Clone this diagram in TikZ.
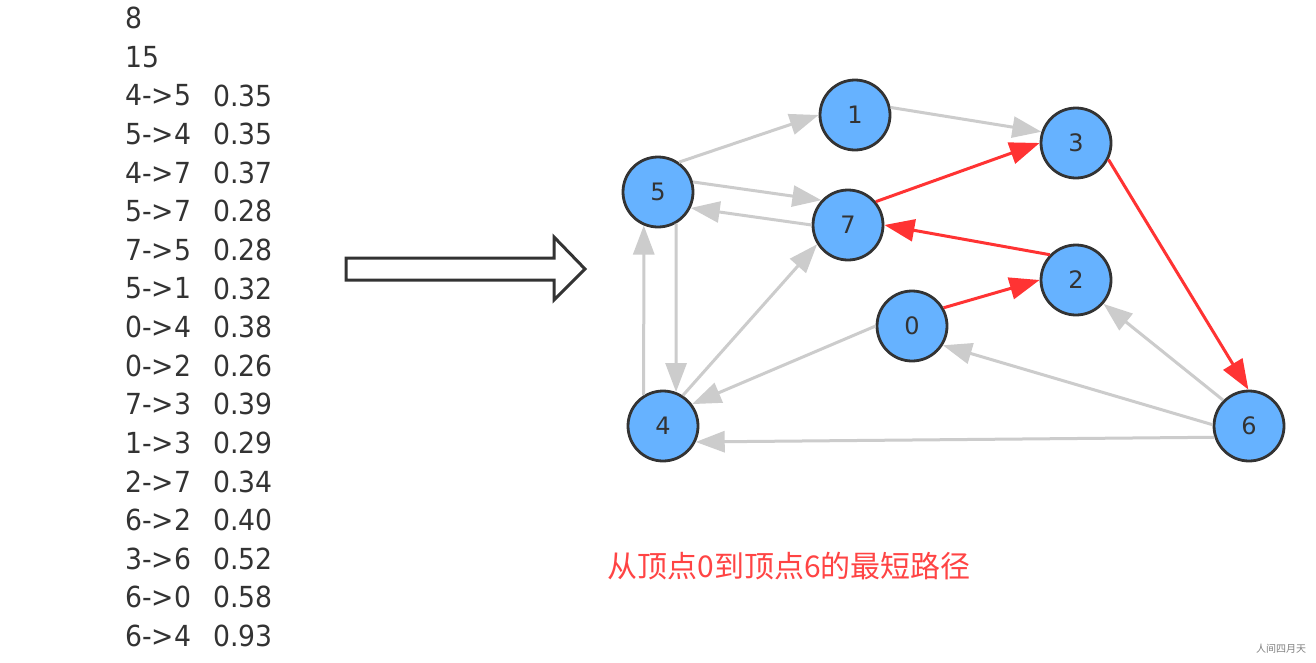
\documentclass[tikz,border=0pt]{standalone}
\usepackage{fontspec}
\setmainfont{DejaVu Sans}
\newfontfamily\listfont[FakeStretch=0.92]{DejaVu Sans}
\newfontfamily\cjk{Noto Sans CJK SC}
\usetikzlibrary{arrows.meta}
\definecolor{txtgray}{HTML}{333333}
\definecolor{edgegray}{HTML}{CCCCCC}
\definecolor{pathred}{HTML}{FF3333}
\definecolor{nodeblue}{HTML}{66B2FF}
\definecolor{capred}{HTML}{FF4444}
\tikzset{
  listtxt/.style={anchor=west, inner sep=0pt, text=txtgray, font=\listfont\fontsize{29}{29}\selectfont},
  vert/.style={circle, draw=txtgray, line width=2.8pt, fill=nodeblue, minimum size=70pt, inner sep=0pt,
    text=txtgray, font=\fontsize{24}{24}\selectfont},
  gedge/.style={draw=edgegray, line width=3pt, -{Triangle[length=29pt,width=21pt]}},
  redge/.style={draw=pathred, line width=3pt, -{Triangle[length=30pt,width=22pt]}},
  bigarrow/.style={draw=txtgray, line width=3pt, fill=white, line join=miter},
}
\begin{document}
\begin{tikzpicture}[x=1pt,y=1pt]
\useasboundingbox (0,0) rectangle (1316,-662);
\fill[white] (0,0) rectangle (1316,-662);

% input list
\node[listtxt] (n8) at (125,-18.3) {8};
\node[listtxt] (n15) at (125,-56.9) {15};
\foreach \a/\b [count=\i] in {4->5/0.35,5->4/0.35,4->7/0.37,5->7/0.28,7->5/0.28,5->1/0.32,0->4/0.38,0->2/0.26,7->3/0.39,1->3/0.29,2->7/0.34,6->2/0.40,3->6/0.52,6->0/0.58,6->4/0.93}{
  \node[listtxt] (ea\i) at (125,{-95.5-38.6*(\i-1)}) {\a};
  \node[listtxt] (eb\i) at (213,{-95.5-38.6*(\i-1)}) {\b};
}

% hollow arrow
\draw[bigarrow] (346,-258) -- (554,-258) -- (554,-237) -- (585,-269) -- (554,-300) -- (554,-280) -- (346,-280) -- cycle;

% vertices
\node[vert] (v5) at (658,-192) {5};
\node[vert] (v1) at (855,-115) {1};
\node[vert] (v3) at (1076,-143) {3};
\node[vert] (v7) at (848,-225) {7};
\node[vert] (v2) at (1076,-280) {2};
\node[vert] (v0) at (912,-326) {0};
\node[vert] (v4) at (663,-426) {4};
\node[vert] (v6) at (1249,-426) {6};

% gray edges
\draw[gedge] (v5.55) -- (v1.180);
\draw[gedge] (v1.12) -- (v3.162);
\draw[gedge] (v5.16) -- (v7.137);
\draw[gedge] (v7.180) -- (v5.-26);
\draw[gedge] (v5.-60) -- (v4.69);
\draw[gedge] (v4.122) -- (v5.-113);
\draw[gedge] (v4.57) -- (v7.212);
\draw[gedge] (v0.180) -- (v4.37);
\draw[gedge] (v6.178) -- (v0.-32);
\draw[gedge] (v6.135) -- (v2.-41);
\draw[gedge] (v6.198) -- (v4.-26);

% shortest path
\draw[redge] (v0.30) -- (v2.180);
\draw[redge] (v2.136) -- (v7.0);
\draw[redge] (v7.40) -- (v3.180);
\draw[redge] (v3.-27) -- (v6.91);

% caption
\node[text=capred, font=\cjk\fontsize{30}{30}\selectfont, inner sep=0pt] (cap) at (789,-566) {从顶点0到顶点6的最短路径};
\node[text=gray, font=\cjk\fontsize{10}{10}\selectfont, inner sep=0pt] (wm) at (1281,-649) {人间四月天};
\end{tikzpicture}
\end{document}
